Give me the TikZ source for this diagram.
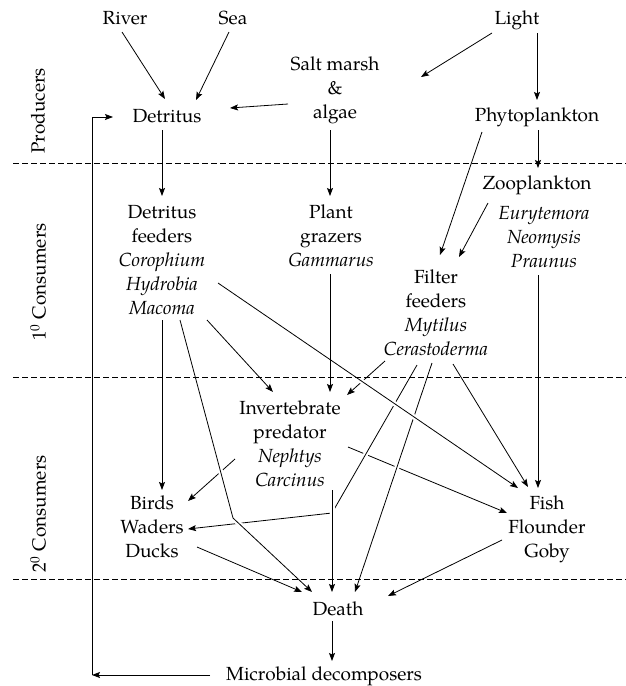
\documentclass[tikz,border=0pt]{standalone}
\usepackage{fontspec}
\setmainfont{TeX Gyre Pagella}
\usetikzlibrary{arrows.meta,calc}
\begin{document}
\begin{tikzpicture}[x=1pt,y=-1pt,
  lbl/.style={inner sep=0pt, align=center, font=\fontsize{19}{24}\selectfont},
  side/.style={lbl, rotate=90},
  arr/.style={line width=0.8pt, -{Stealth[length=8pt,width=6pt,inset=1.5pt]}},
  halo/.style={preaction={draw=white, line width=5pt, arrows=-}},
  level/.style={line width=0.9pt, dash pattern=on 6pt off 3pt}]

\useasboundingbox (0,0) rectangle (626,686);

% ---- labels ----
\node[lbl] (river) at (125,18) {River};
\node[lbl] (sea) at (233,18) {Sea};
\node[lbl] (light) at (517,20) {Light};
\node[lbl] (salt) at (335,90) {Salt marsh\\\&\\algae};
\node[lbl] (detritus) at (167,116) {Detritus};
\node[lbl] (phyto) at (537,117) {Phytoplankton};
\node[lbl] (dfeed) at (162,260) {Detritus\\feeders\\\textit{Corophium}\\\textit{Hydrobia}\\\textit{Macoma}};
\node[lbl] (pgraz) at (331,236) {Plant\\grazers\\\textit{Gammarus}};
\node[lbl] (zoo) at (537,185) {Zooplankton};
\node[lbl] (zoosp) at (544,237) {\textit{Eurytemora}\\\textit{Neomysis}\\\textit{Praunus}};
\node[lbl] (filter) at (436,313) {Filter\\feeders\\\textit{Mytilus}\\\textit{Cerastoderma}};
\node[lbl] (invert) at (290,444) {Invertebrate\\predator\\\textit{Nephtys}\\\textit{Carcinus}};
\node[lbl] (birds) at (152,527) {Birds\\Waders\\Ducks};
\node[lbl] (fish) at (547,529) {Fish\\Flounder\\Goby};
\node[lbl] (death) at (338,609) {Death};
\node[lbl] (micro) at (324,676) {Microbial decomposers};

\node[side] (prod) at (38,111) {Producers};
\node[side] (cons1) at (38,282) {1\textsuperscript{0} Consumers};
\node[side] (cons2) at (38,514) {2\textsuperscript{0} Consumers};

% ---- helper points ----
\coordinate (saltend) at ($(salt)+(86,-13)$);
\coordinate (loop) at (92,675);
\coordinate (mbend) at (233,518);
\coordinate (cbend) at (332,513);

% ---- links that pass underneath others ----
\draw[arr] ($(invert)+(58,3)$) -- ($(fish)+(-40,-16)$);
\draw[arr] ($(invert)+(-55,15)$) -- ($(birds)+(36,-26)$);

\draw[arr,halo] ($(filter)+(-19,52)$) -- (cbend) -- ($(birds)+(36,2)$);
\draw[arr,halo] ($(filter)+(-4,50)$) -- ($(death)+(17,-17)$);
\draw[arr,halo] ($(filter)+(-51,48)$) -- ($(invert)+(57,-49)$);

\draw[arr,halo] ($(dfeed)+(18,60)$) -- (mbend) -- ($(death)+(-26,-17)$);
\draw[arr,halo] ($(invert)+(42,46)$) -- ($(death)+(-6,-17)$);
\draw[arr,halo] ($(dfeed)+(56,23)$) -- ($(fish)+(-29,-41)$);

% ---- remaining links ----
\draw[arr] ($(river)+(-3,14)$) -- ($(detritus)+(-2,-17)$);
\draw[arr] ($(sea)+(-4,14)$) -- ($(detritus)+(29,-16)$);
\draw[arr] ($(salt)+(-47,14)$) -- ($(detritus)+(63,-8)$);
\draw[arr] ($(light)+(-25,13)$) -- (saltend);
\draw[arr] ($(light)+(20,13)$) -- ($(phyto)+(0,-17)$);
\draw[arr] ($(detritus)+(-5,14)$) -- ($(dfeed)+(0,-64)$);
\draw[arr] ($(salt)+(-5,40)$) -- ($(pgraz)+(-1,-40)$);
\draw[arr] ($(phyto)+(1,13)$) -- ($(zoo)+(1,-17)$);
\draw[arr] ($(phyto)+(-55,15)$) -- ($(filter)+(4,-58)$);
\draw[arr] ($(zoo)+(-49,18)$) -- ($(filter)+(23,-56)$);
\draw[arr] ($(zoosp)+(-6,38)$) -- ($(fish)+(-9,-41)$);
\draw[arr] ($(pgraz)+(-1,38)$) -- ($(invert)+(40,-52)$);
\draw[arr] ($(dfeed)+(45,60)$) -- ($(invert)+(-17,-52)$);
\draw[arr] ($(dfeed)+(0,60)$) -- ($(birds)+(10,-37)$);
\draw[arr] ($(filter)+(17,51)$) -- ($(fish)+(-19,-42)$);
\draw[arr] ($(birds)+(45,20)$) -- ($(death)+(-36,-17)$);
\draw[arr] ($(fish)+(-45,11)$) -- ($(death)+(50,-13)$);
\draw[arr] ($(death)+(-6,12)$) -- ($(micro)+(8,-15)$);
\draw[arr] ($(micro)+(-114,-1)$) -- (loop);
\draw[arr] (loop) |- ($(detritus)+(-54,1)$);

% ---- trophic level boundaries ----
\draw[level] (13,163) -- (630,163);
\draw[level] (13,377) -- (630,377);
\draw[level] (13,579) -- (630,579);

\end{tikzpicture}
\end{document}
